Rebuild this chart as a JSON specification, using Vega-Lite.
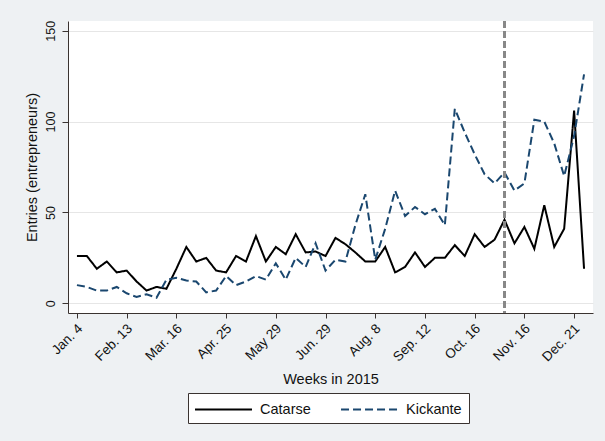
{
  "$schema": "https://vega.github.io/schema/vega-lite/v6.json",
  "width": 525,
  "height": 292,
  "autosize": {"type": "none"},
  "padding": {"left": 68, "top": 21, "right": 12, "bottom": 128},
  "background": "#eef1f3",
  "config": {
    "view": {"fill": "white", "stroke": null},
    "font": "Liberation Sans",
    "axis": {
      "domainColor": "#3a3330",
      "tickColor": "#3a3330",
      "labelColor": "#111",
      "titleColor": "#111",
      "titleFontWeight": "normal",
      "titleFontSize": 14.5
    },
    "legend": {
      "title": null,
      "orient": "none",
      "legendX": 120,
      "legendY": 372,
      "direction": "horizontal",
      "symbolType": "M-3.35,0H3.35",
      "symbolSize": 289,
      "symbolStrokeWidth": 2,
      "symbolOffset": 19,
      "labelFontSize": 14.5,
      "labelColor": "#111",
      "labelOffset": 27,
      "columnPadding": 26,
      "padding": 7,
      "strokeColor": "#3a3330",
      "fillColor": "white"
    }
  },
  "datasets": {
    "weekly": [
      {"week": 1, "platform": "Catarse", "entries": 26},
      {"week": 2, "platform": "Catarse", "entries": 26},
      {"week": 3, "platform": "Catarse", "entries": 19},
      {"week": 4, "platform": "Catarse", "entries": 23},
      {"week": 5, "platform": "Catarse", "entries": 17},
      {"week": 6, "platform": "Catarse", "entries": 18},
      {"week": 7, "platform": "Catarse", "entries": 12},
      {"week": 8, "platform": "Catarse", "entries": 7},
      {"week": 9, "platform": "Catarse", "entries": 9},
      {"week": 10, "platform": "Catarse", "entries": 8},
      {"week": 11, "platform": "Catarse", "entries": 19},
      {"week": 12, "platform": "Catarse", "entries": 31},
      {"week": 13, "platform": "Catarse", "entries": 23},
      {"week": 14, "platform": "Catarse", "entries": 25},
      {"week": 15, "platform": "Catarse", "entries": 18},
      {"week": 16, "platform": "Catarse", "entries": 17},
      {"week": 17, "platform": "Catarse", "entries": 26},
      {"week": 18, "platform": "Catarse", "entries": 23},
      {"week": 19, "platform": "Catarse", "entries": 37},
      {"week": 20, "platform": "Catarse", "entries": 23},
      {"week": 21, "platform": "Catarse", "entries": 31},
      {"week": 22, "platform": "Catarse", "entries": 27},
      {"week": 23, "platform": "Catarse", "entries": 38},
      {"week": 24, "platform": "Catarse", "entries": 28},
      {"week": 25, "platform": "Catarse", "entries": 28.5},
      {"week": 26, "platform": "Catarse", "entries": 26},
      {"week": 27, "platform": "Catarse", "entries": 36},
      {"week": 28, "platform": "Catarse", "entries": 32.5},
      {"week": 29, "platform": "Catarse", "entries": 28},
      {"week": 30, "platform": "Catarse", "entries": 23},
      {"week": 31, "platform": "Catarse", "entries": 23},
      {"week": 32, "platform": "Catarse", "entries": 31},
      {"week": 33, "platform": "Catarse", "entries": 17},
      {"week": 34, "platform": "Catarse", "entries": 20},
      {"week": 35, "platform": "Catarse", "entries": 28},
      {"week": 36, "platform": "Catarse", "entries": 20},
      {"week": 37, "platform": "Catarse", "entries": 25},
      {"week": 38, "platform": "Catarse", "entries": 25},
      {"week": 39, "platform": "Catarse", "entries": 32},
      {"week": 40, "platform": "Catarse", "entries": 26},
      {"week": 41, "platform": "Catarse", "entries": 38},
      {"week": 42, "platform": "Catarse", "entries": 31},
      {"week": 43, "platform": "Catarse", "entries": 35},
      {"week": 44, "platform": "Catarse", "entries": 46},
      {"week": 45, "platform": "Catarse", "entries": 33},
      {"week": 46, "platform": "Catarse", "entries": 42},
      {"week": 47, "platform": "Catarse", "entries": 30},
      {"week": 48, "platform": "Catarse", "entries": 54},
      {"week": 49, "platform": "Catarse", "entries": 31},
      {"week": 50, "platform": "Catarse", "entries": 41},
      {"week": 51, "platform": "Catarse", "entries": 106},
      {"week": 52, "platform": "Catarse", "entries": 19},
      {"week": 1, "platform": "Kickante", "entries": 10},
      {"week": 2, "platform": "Kickante", "entries": 9},
      {"week": 3, "platform": "Kickante", "entries": 7},
      {"week": 4, "platform": "Kickante", "entries": 7},
      {"week": 5, "platform": "Kickante", "entries": 9},
      {"week": 6, "platform": "Kickante", "entries": 5.5},
      {"week": 7, "platform": "Kickante", "entries": 3.5},
      {"week": 8, "platform": "Kickante", "entries": 5},
      {"week": 9, "platform": "Kickante", "entries": 3},
      {"week": 10, "platform": "Kickante", "entries": 13},
      {"week": 11, "platform": "Kickante", "entries": 14},
      {"week": 12, "platform": "Kickante", "entries": 12.5},
      {"week": 13, "platform": "Kickante", "entries": 12},
      {"week": 14, "platform": "Kickante", "entries": 6},
      {"week": 15, "platform": "Kickante", "entries": 7},
      {"week": 16, "platform": "Kickante", "entries": 15},
      {"week": 17, "platform": "Kickante", "entries": 10},
      {"week": 18, "platform": "Kickante", "entries": 12},
      {"week": 19, "platform": "Kickante", "entries": 15},
      {"week": 20, "platform": "Kickante", "entries": 13},
      {"week": 21, "platform": "Kickante", "entries": 22},
      {"week": 22, "platform": "Kickante", "entries": 13},
      {"week": 23, "platform": "Kickante", "entries": 25},
      {"week": 24, "platform": "Kickante", "entries": 20},
      {"week": 25, "platform": "Kickante", "entries": 33},
      {"week": 26, "platform": "Kickante", "entries": 18},
      {"week": 27, "platform": "Kickante", "entries": 24},
      {"week": 28, "platform": "Kickante", "entries": 23},
      {"week": 29, "platform": "Kickante", "entries": 43},
      {"week": 30, "platform": "Kickante", "entries": 60},
      {"week": 31, "platform": "Kickante", "entries": 24},
      {"week": 32, "platform": "Kickante", "entries": 41},
      {"week": 33, "platform": "Kickante", "entries": 62},
      {"week": 34, "platform": "Kickante", "entries": 48},
      {"week": 35, "platform": "Kickante", "entries": 53},
      {"week": 36, "platform": "Kickante", "entries": 49},
      {"week": 37, "platform": "Kickante", "entries": 52},
      {"week": 38, "platform": "Kickante", "entries": 43},
      {"week": 39, "platform": "Kickante", "entries": 107},
      {"week": 40, "platform": "Kickante", "entries": 94},
      {"week": 41, "platform": "Kickante", "entries": 82},
      {"week": 42, "platform": "Kickante", "entries": 71},
      {"week": 43, "platform": "Kickante", "entries": 66},
      {"week": 44, "platform": "Kickante", "entries": 72},
      {"week": 45, "platform": "Kickante", "entries": 62},
      {"week": 46, "platform": "Kickante", "entries": 66},
      {"week": 47, "platform": "Kickante", "entries": 101},
      {"week": 48, "platform": "Kickante", "entries": 100},
      {"week": 49, "platform": "Kickante", "entries": 88},
      {"week": 50, "platform": "Kickante", "entries": 70},
      {"week": 51, "platform": "Kickante", "entries": 92},
      {"week": 52, "platform": "Kickante", "entries": 126}
    ],
    "marker": [{"week": 44}]
  },
  "layer": [
    {
      "data": {"name": "weekly"},
      "mark": {"type": "line", "strokeWidth": 2},
      "encoding": {
        "x": {
          "field": "week",
          "type": "quantitative",
          "scale": {"domain": [0.1, 52.9], "nice": false, "zero": false},
          "axis": {
            "title": "Weeks in 2015",
            "titleY": 70.5,
            "titleBaseline": "alphabetic",
            "values": [1, 6, 11, 16, 21, 26, 31, 36, 41, 46, 51],
            "labelExpr": "['Jan. 4','Feb. 13','Mar. 16','Apr. 25','May 29','Jun. 29','Aug. 8','Sep. 12','Oct. 16','Nov. 16','Dec. 21'][(datum.value - 1) / 5]",
            "labelAngle": -45,
            "labelAlign": "right",
            "labelBaseline": "middle",
            "labelFontSize": 13.5,
            "labelPadding": 8,
            "labelOffset": 3,
            "tickSize": 5,
            "grid": false,
            "labelOverlap": false,
            "labelFlush": false
          }
        },
        "y": {
          "field": "entries",
          "type": "quantitative",
          "scale": {"domain": [-5.34, 155.34], "nice": false, "zero": false},
          "axis": {
            "title": "Entries (entrepreneurs)",
            "titleX": -32,
            "titleY": 146,
            "titleAngle": 270,
            "titleAlign": "center",
            "titleBaseline": "alphabetic",
            "values": [0, 50, 100, 150],
            "labelAngle": 270,
            "labelAlign": "center",
            "labelBaseline": "alphabetic",
            "labelFontSize": 12.5,
            "labelPadding": 8,
            "tickSize": 6,
            "grid": true,
            "gridColor": "#e6e6e6",
            "gridWidth": 1,
            "labelOverlap": false,
            "labelFlush": false
          }
        },
        "color": {
          "field": "platform",
          "type": "nominal",
          "scale": {"domain": ["Catarse", "Kickante"], "range": ["#000000", "#1a476f"]}
        },
        "strokeDash": {
          "field": "platform",
          "type": "nominal",
          "scale": {"domain": ["Catarse", "Kickante"], "range": [[1, 0], [8, 4]]}
        }
      }
    },
    {
      "data": {"name": "marker"},
      "mark": {"type": "rule", "color": "#888888", "strokeWidth": 3, "strokeDash": [7, 3]},
      "encoding": {
        "x": {"field": "week", "type": "quantitative"}
      }
    }
  ]
}
